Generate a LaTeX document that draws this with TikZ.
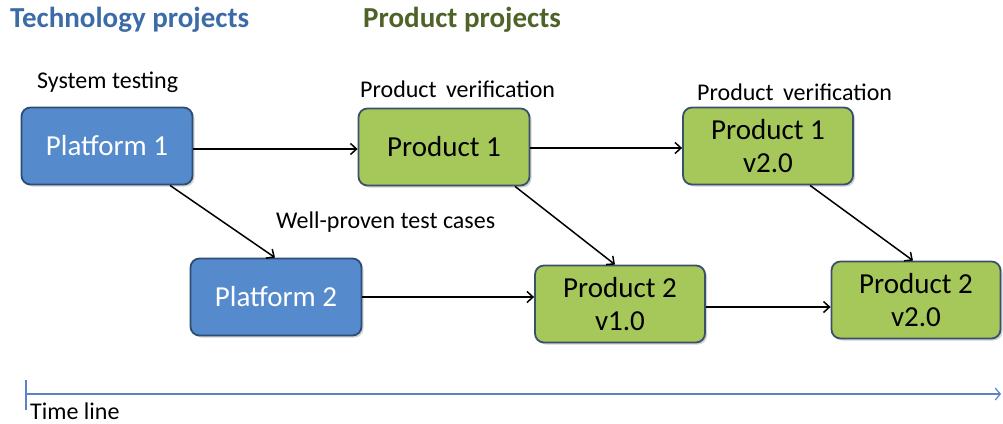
\documentclass[tikz,border=0pt]{standalone}
\usepackage{fontspec}
\setmainfont{Carlito}
\usetikzlibrary{arrows.meta, shadows}
\definecolor{techblock}{RGB}{85, 138, 204}
\definecolor{techedge}{RGB}{44, 77, 117}
\definecolor{prodblock}{RGB}{166, 199, 90}
\definecolor{prodedge}{RGB}{58, 82, 105}
\definecolor{techtitle}{RGB}{60, 108, 168}
\definecolor{prodtitle}{RGB}{79, 98, 40}
\definecolor{timeline}{RGB}{90, 130, 200}

\tikzset{
	techbox/.style={draw=techedge, line width=1.8pt, fill=techblock, rounded corners=9pt,
		minimum width=171pt, minimum height=77pt, inner sep=0pt, align=center,
		text=white, font=\fontsize{29}{33}\selectfont, drop shadow={opacity=0.35, shadow xshift=2pt, shadow yshift=-2pt}},
	prodbox/.style={techbox, draw=prodedge, fill=prodblock, text=black},
	note/.style={font=\fontsize{24}{28}\selectfont, inner sep=0pt},
	title/.style={font=\bfseries\fontsize{29}{33}\selectfont, inner sep=0pt},
	flow/.style={-{Straight Barb[length=6pt, width=11pt]}, line width=1.5pt}
}

\begin{document}
\begin{tikzpicture}[x=1pt, y=-1pt]
	\useasboundingbox (0,0) rectangle (1003,423);

	% --- Titles ---
	\node[title, text=techtitle, anchor=west] (techtitle) at (10, 20) {Technology projects};
	\node[title, text=prodtitle, anchor=west] (prodtitle) at (363, 20) {Product projects};

	% --- Blocks ---
	\node[techbox] (plat1) at (107, 146) {Platform 1};
	\node[techbox] (plat2) at (276, 297) {Platform 2};
	\node[prodbox] (prod1) at (444, 147) {Product 1};
	\node[prodbox, minimum width=170pt] (prod1v2) at (768, 146) {Product 1\\v2.0};
	\node[prodbox, minimum width=170pt] (prod2v1) at (620, 304) {Product 2\\v1.0};
	\node[prodbox, minimum width=169pt] (prod2v2) at (916, 300) {Product 2\\v2.0};

	% --- Notes ---
	\node[note, anchor=west] (systest) at (37, 82) {System testing};
	\node[note, anchor=west] (verif1) at (360, 89) {Product\, verification};
	\node[note, anchor=west] (verif2) at (697, 92) {Product\, verification};
	\node[note, anchor=west] (cases) at (276, 222) {Well-proven test cases};

	% --- Connectors ---
	\draw[flow] (plat1.east |- 0,149) -- (prod1.west |- 0,149);
	\draw[flow] (plat1.south -| 170,0) -- (plat2.north -| 275,0);
	\draw[flow] (plat2.east |- 0,297) -- (prod2v1.west |- 0,297);
	\draw[flow] (prod1.south -| 515,0) -- (prod2v1.north -| 615,0);
	\draw[flow] (prod1.east |- 0,148) -- (prod1v2.west |- 0,148);
	\draw[flow] (prod1v2.south -| 810,0) -- (prod2v2.north -| 913,0);
	\draw[flow] (prod2v1.east |- 0,307) -- (prod2v2.west |- 0,307);

	% --- Time line ---
	\coordinate (tstart) at (26, 394);
	\coordinate (tend) at (1001, 394);
	\draw[timeline, line width=1.2pt] (26, 380) -- (26, 410);
	\draw[timeline, line width=1.2pt, -{Straight Barb[length=5pt, width=12pt]}] (tstart) -- (tend);
	\node[note, anchor=base west] (tline) at (30, 419) {Time line};
\end{tikzpicture}
\end{document}
